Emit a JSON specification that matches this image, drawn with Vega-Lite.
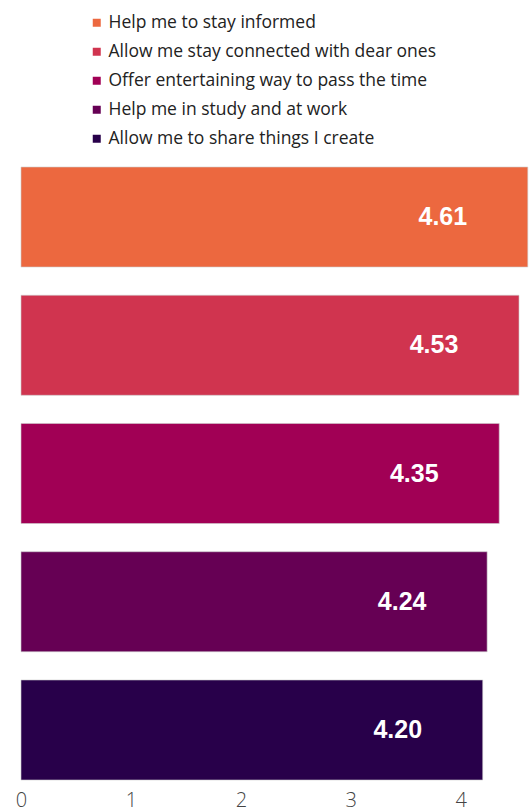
{
  "$schema": "https://vega.github.io/schema/vega-lite/v6.json",
  "width": 509,
  "height": 613,
  "autosize": "none",
  "padding": {"left": 21, "top": 167, "right": 0, "bottom": 32},
  "background": "white",
  "config": {"view": {"stroke": null}},
  "data": {
    "values": [
      {"reason": "Help me to stay informed", "score": 4.61, "label": "4.61"},
      {"reason": "Allow me stay connected with dear ones", "score": 4.53, "label": "4.53"},
      {"reason": "Offer entertaining way to pass the time", "score": 4.35, "label": "4.35"},
      {"reason": "Help me in study and at work", "score": 4.24, "label": "4.24"},
      {"reason": "Allow me to share things I create", "score": 4.20, "label": "4.20"}
    ]
  },
  "encoding": {
    "y": {
      "field": "reason",
      "type": "nominal",
      "sort": null,
      "axis": null,
      "scale": {"paddingInner": 0.22, "paddingOuter": 0}
    },
    "x": {
      "field": "score",
      "type": "quantitative",
      "scale": {"domain": [0, 4.63], "nice": false, "zero": true},
      "axis": {
        "values": [0, 1, 2, 3, 4],
        "title": null,
        "grid": false,
        "domain": false,
        "ticks": false,
        "labelFont": "Open Sans",
        "labelFontWeight": 300,
        "labelFontSize": 20,
        "labelColor": "#444444",
        "labelPadding": 10,
        "labelFlush": false
      }
    }
  },
  "layer": [
    {
      "mark": {"type": "bar", "stroke": "#cccccc", "strokeWidth": 0.6},
      "encoding": {
        "color": {
          "field": "reason",
          "type": "nominal",
          "sort": null,
          "scale": {
            "domain": [
              "Help me to stay informed",
              "Allow me stay connected with dear ones",
              "Offer entertaining way to pass the time",
              "Help me in study and at work",
              "Allow me to share things I create"
            ],
            "range": ["#EC683F", "#D0344F", "#A10055", "#660054", "#28004A"]
          },
          "legend": {
            "title": null,
            "orient": "none",
            "legendX": 67,
            "legendY": -153,
            "direction": "vertical",
            "symbolType": "square",
            "symbolSize": 64,
            "symbolStrokeWidth": 0,
            "labelFont": "Open Sans",
            "labelFontSize": 17.5,
            "labelColor": "#222222",
            "labelOffset": 3,
            "rowPadding": 10,
            "labelLimit": 500
          }
        }
      }
    },
    {
      "mark": {
        "type": "text",
        "align": "center",
        "baseline": "middle",
        "dx": -85,
        "font": "Liberation Sans",
        "fontWeight": "bold",
        "fontSize": 25,
        "color": "white"
      },
      "encoding": {"text": {"field": "label"}}
    }
  ]
}
